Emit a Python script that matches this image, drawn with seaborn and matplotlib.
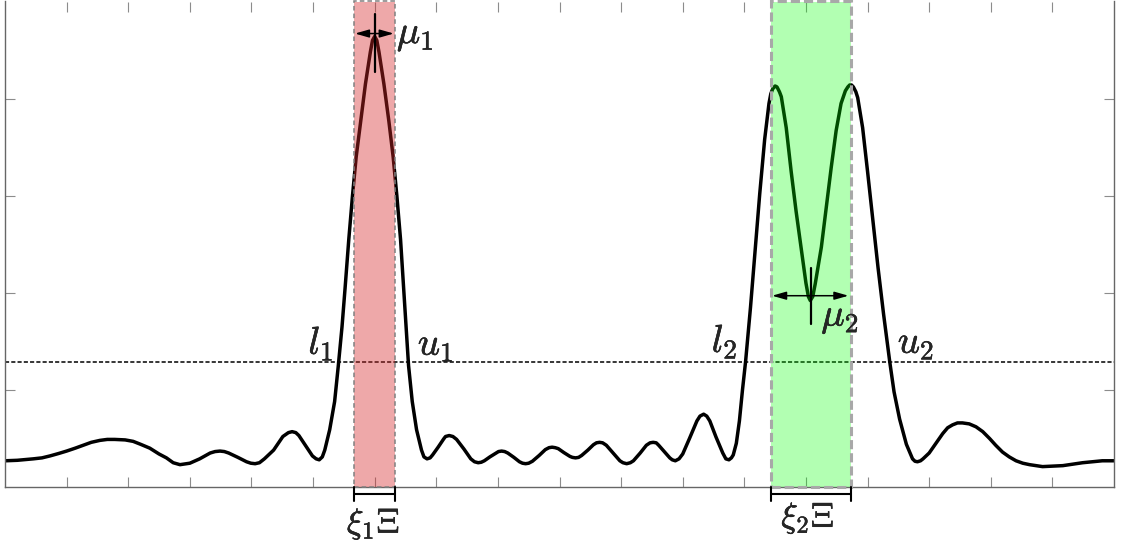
import matplotlib
matplotlib.use("Agg")
import matplotlib.pyplot as plt
import matplotlib.patheffects as pe
import pandas as pd
import seaborn as sns
from matplotlib.patches import Rectangle

sns.set_style("ticks")
plt.rcParams["mathtext.fontset"] = "cm"
plt.rcParams["font.family"] = ["DejaVu Sans"]

# Response curve (x, y) sampled along its length
curve_x = [
    0.00, 0.20, 0.46, 0.60, 0.73, 0.87, 1.00, 1.14, 1.27, 1.40, 1.54, 1.66, 1.78,
    1.95, 2.08, 2.20, 2.35, 2.50, 2.62, 2.73, 2.84, 3.00, 3.16, 3.33, 3.41, 3.49,
    3.56, 3.63, 3.78, 3.92, 3.99, 4.06, 4.13, 4.21, 4.36, 4.51, 4.60, 4.66, 4.72,
    4.77, 4.88, 4.99, 5.05, 5.10, 5.15,
    5.19, 5.27, 5.35, 5.41, 5.47, 5.52, 5.58, 5.64, 5.70, 5.77, 5.85, 5.93, 5.965,
    6.00, 6.035, 6.07, 6.15, 6.23, 6.30, 6.36, 6.42, 6.47, 6.51, 6.55, 6.61, 6.68,
    6.76, 6.80, 6.85, 6.90,
    6.94, 7.03, 7.12, 7.15, 7.21, 7.27, 7.33, 7.45, 7.56, 7.62, 7.68, 7.73, 7.78,
    7.87, 7.97, 8.01, 8.06, 8.11, 8.16, 8.26, 8.35, 8.40, 8.45, 8.50, 8.56, 8.67,
    8.77, 8.83, 8.88, 8.93, 8.98, 9.07, 9.17, 9.21, 9.26, 9.31, 9.36, 9.46, 9.55,
    9.60, 9.65, 9.70, 9.76, 9.87, 9.98, 10.03, 10.09, 10.15, 10.20, 10.31, 10.41,
    10.47, 10.52, 10.57, 10.61, 10.70, 10.79, 10.83, 10.88, 10.94, 11.00, 11.11,
    11.23, 11.28, 11.34, 11.39, 11.44, 11.54, 11.65, 11.70, 11.75, 11.79,
    11.82, 11.87, 11.92, 11.97, 12.02, 12.10, 12.17, 12.25, 12.33, 12.40, 12.43,
    12.46, 12.50, 12.53, 12.57, 12.60, 12.68, 12.76, 12.84, 12.92, 13.00, 13.04,
    13.07, 13.11, 13.15, 13.25, 13.33, 13.41, 13.49, 13.57, 13.64, 13.68, 13.71,
    13.74, 13.77, 13.81, 13.84, 13.92, 14.00, 14.08, 14.17, 14.26, 14.36, 14.43,
    14.52, 14.63, 14.73, 14.77, 14.81, 14.86, 14.90, 15.00, 15.11, 15.22, 15.30,
    15.38, 15.46, 15.54, 15.65, 15.76, 15.87, 15.98, 16.08, 16.19, 16.30, 16.41,
    16.52, 16.63, 16.84, 17.00, 17.17, 17.33, 17.49, 17.65, 17.81, 18.00,
]
curve_y = [
    0.27, 0.275, 0.29, 0.30, 0.32, 0.345, 0.37, 0.40, 0.43, 0.46, 0.48, 0.49, 0.49,
    0.485, 0.47, 0.44, 0.40, 0.34, 0.30, 0.25, 0.23, 0.245, 0.29, 0.35, 0.365, 0.37,
    0.365, 0.35, 0.305, 0.26, 0.245, 0.24, 0.25, 0.29, 0.38, 0.52, 0.56, 0.57, 0.56,
    0.53, 0.425, 0.32, 0.29, 0.28, 0.31,
    0.38, 0.59, 0.88, 1.25, 1.65, 2.05, 2.55, 3.00, 3.40, 3.75, 4.15, 4.48, 4.60,
    4.64, 4.60, 4.48, 4.15, 3.77, 3.40, 3.00, 2.55, 2.05, 1.65, 1.25, 0.88, 0.59,
    0.38, 0.31, 0.29, 0.30,
    0.33, 0.41, 0.495, 0.52, 0.53, 0.52, 0.49, 0.39, 0.29, 0.26, 0.25, 0.255, 0.27,
    0.31, 0.35, 0.365, 0.37, 0.365, 0.35, 0.305, 0.26, 0.245, 0.24, 0.245, 0.265, 0.325,
    0.385, 0.405, 0.41, 0.405, 0.395, 0.355, 0.315, 0.305, 0.30, 0.305, 0.325, 0.38, 0.435,
    0.455, 0.46, 0.455, 0.43, 0.35, 0.27, 0.25, 0.24, 0.25, 0.27, 0.35, 0.43,
    0.455, 0.46, 0.455, 0.43, 0.365, 0.30, 0.28, 0.27, 0.29, 0.34, 0.50,
    0.68, 0.73, 0.75, 0.73, 0.68, 0.515, 0.35, 0.29, 0.28, 0.30,
    0.33, 0.45, 0.68, 1.00, 1.29, 1.85, 2.40, 3.02, 3.58, 3.95, 4.05,
    4.10, 4.13, 4.12, 4.07, 4.02, 3.70, 3.25, 2.84, 2.47, 2.10, 1.96,
    1.92, 1.96, 2.09, 2.47, 2.88, 3.29, 3.67, 3.95, 4.08, 4.12, 4.14,
    4.14, 4.12, 4.07, 4.01, 3.70, 3.25, 2.78, 2.26, 1.78, 1.29, 0.98,
    0.70, 0.44, 0.29, 0.265, 0.26, 0.27, 0.29, 0.35, 0.45, 0.55, 0.61,
    0.64, 0.66, 0.66, 0.65, 0.62, 0.57, 0.50, 0.43, 0.36, 0.31, 0.27,
    0.245, 0.23, 0.21, 0.215, 0.22, 0.235, 0.25, 0.26, 0.27, 0.27,
]

threshold = 1.29
window_centers = [6.00, 13.08]
window_half_widths = [0.33, 0.655]
mu_arrow_levels = [4.67, 1.97]
mu_marker_spans = [(4.27, 4.87), (1.68, 2.26)]

df = pd.DataFrame({"x": curve_x, "y": curve_y})

fig = plt.figure(figsize=(11.22, 5.49), dpi=100)
ax = fig.add_axes([5 / 1122, 62 / 549, 1109 / 1122, 485.5 / 549])

sns.lineplot(data=df, x="x", y="y", ax=ax, color="black", linewidth=2.5,
             estimator=None, sort=False, zorder=2,
             solid_joinstyle="round", solid_capstyle="round")

ax.axhline(threshold, color="black", lw=1.1, ls=(0, (2.7, 1.4)), zorder=1)

ax.set_xlim(0, 18)
ax.set_ylim(0, 5)
ax.set_xticks(range(1, 18))
ax.set_yticks(range(1, 5))
ax.tick_params(direction="in", length=7.5, width=0.8, color="#8c8c8c",
               top=True, right=True, labelbottom=False, labelleft=False)
ax.set_xlabel("")
ax.set_ylabel("")
ax.spines["top"].set_visible(False)
for side in ("left", "right", "bottom"):
    ax.spines[side].set_color("#666666")
    ax.spines[side].set_linewidth(1.0)

# shaded windows
fills = [("#d62728", 0.40), ("#00ff00", 0.30)]
edges = [("#808080", 1.1, (0, (3, 2))), ("#a8a8a8", 2.2, (0, (3, 1.3)))]
for c, hw, (fc, al), (ec, elw, els) in zip(window_centers, window_half_widths, fills, edges):
    lo, hi = c - hw, c + hw
    ax.axvspan(lo, hi, color=fc, alpha=al, lw=0, zorder=3)
    ax.add_patch(Rectangle((lo, 0), hi - lo, 5, fill=False, ec=ec, lw=elw,
                           ls=els, zorder=4, clip_on=False))
    # bracket under the axis
    ax.plot([lo, hi], [-0.07, -0.07], color="black", lw=1.5, clip_on=False, zorder=5)
    ax.plot([lo, lo], [0, -0.14], color="black", lw=1.5, clip_on=False, zorder=5)
    ax.plot([hi, hi], [0, -0.14], color="black", lw=1.5, clip_on=False, zorder=5)

# width arrows and centre markers
arrow_ends = [(5.68, 6.31), (12.45, 13.69)]
for c, yl, (a, b), (m0, m1) in zip(window_centers, mu_arrow_levels, arrow_ends, mu_marker_spans):
    ax.plot([c, c], [m0, m1], color="black", lw=1.6, zorder=6)
    ax.annotate("", xy=(a, yl), xytext=(b, yl),
                arrowprops=dict(arrowstyle="<|-|>,head_length=0.7,head_width=0.2",
                                color="black", lw=1.1, shrinkA=0, shrinkB=0,
                                mutation_scale=12), zorder=6)

fs_lab = 28
fs_xi = 25
heavy = [pe.withStroke(linewidth=0.35, foreground="black")]
labels = [
    (5.33, 1.37, r"$l_1$", "right", fs_lab),
    (6.70, 1.36, r"$u_1$", "left", fs_lab),
    (11.89, 1.39, r"$l_2$", "right", fs_lab),
    (14.49, 1.38, r"$u_2$", "left", fs_lab),
    (6.36, 4.57, r"$\mu_1$", "left", fs_lab),
    (13.25, 1.66, r"$\mu_2$", "left", fs_lab),
    (5.98, -0.47, r"$\xi_1\Xi$", "center", fs_xi),
    (13.03, -0.41, r"$\xi_2\Xi$", "center", fs_xi),
]
for x, y, s, ha, fs in labels:
    ax.text(x, y, s, ha=ha, va="baseline", fontsize=fs, zorder=7,
            path_effects=heavy)

fig.savefig("out.png", dpi=100)
